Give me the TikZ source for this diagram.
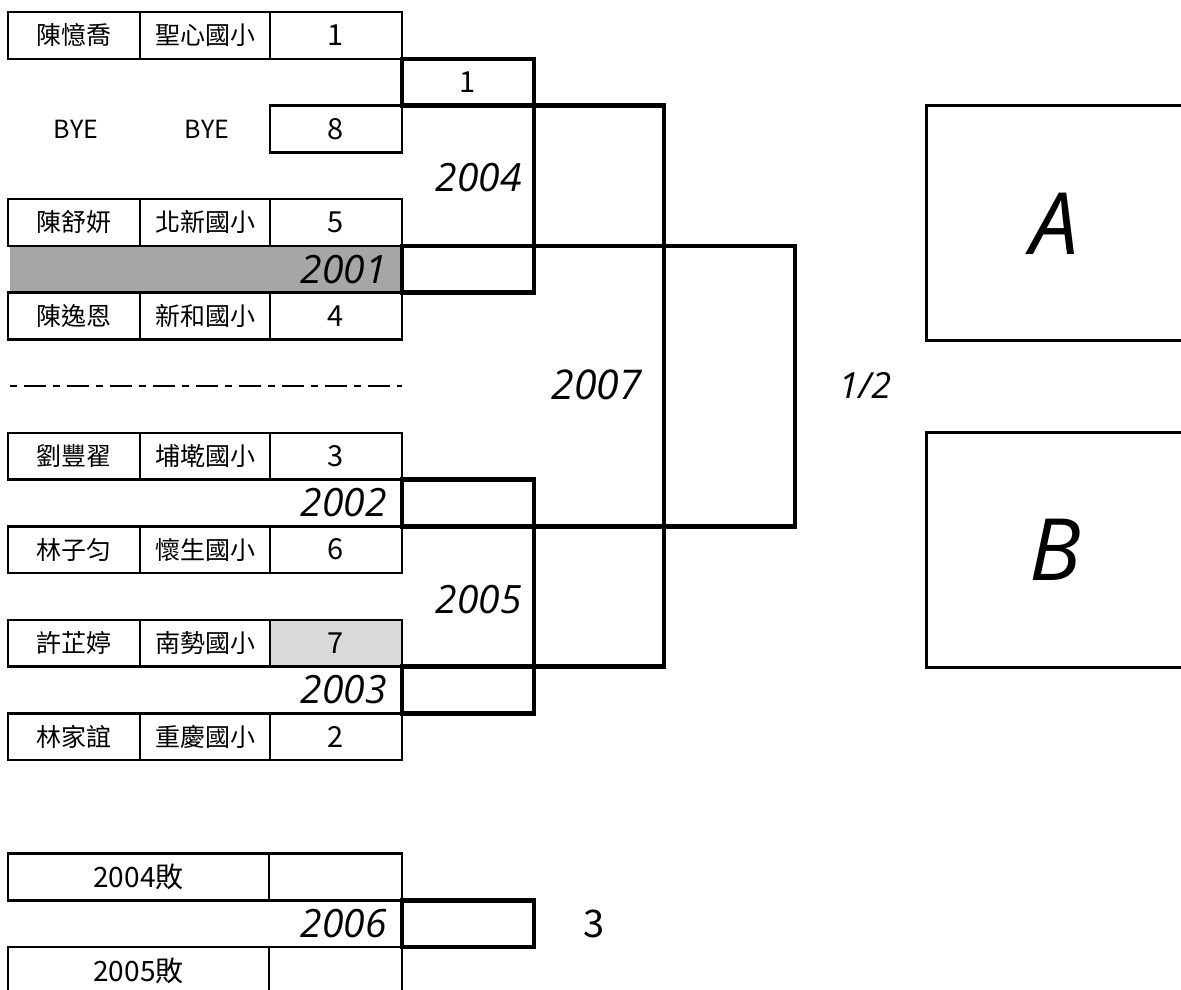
\documentclass[tikz,border=0pt]{standalone}
\usepackage{fontspec}
\setmainfont{Noto Sans CJK TC}
\newfontfamily\numit{Open Sans}
\definecolor{darkgr}{HTML}{A6A6A6}
\definecolor{lightgr}{HTML}{D9D9D9}
\newcommand\prow[5]{%
  \node[cell,minimum width=132pt] (n#1) at (8,#2) {#3};
  \node[cell,minimum width=130pt] (s#1) at (140,#2) {#4};
  \node[cell,numcell,minimum width=132pt] (q#1) at (270,#2) {#5};}
\begin{document}
\begin{tikzpicture}[x=1pt,y=-1pt,
  cell/.style={draw, line width=2.5pt, anchor=north west, minimum height=46.75pt,
    inner sep=0pt, outer sep=0pt, font=\fontsize{25}{25}\selectfont},
  numcell/.style={font=\fontsize{29}{29}\selectfont},
  tbox/.style={draw, line width=4.5pt, anchor=north west, minimum width=132pt,
    minimum height=46.75pt, inner sep=0pt, outer sep=0pt, font=\fontsize{29}{29}\selectfont},
  thk/.style={line width=4.5pt},
  mlabel/.style={font=\numit\itshape\fontsize{39}{39}\selectfont, inner sep=0pt, anchor=east},
  bigbox/.style={draw, line width=3pt, anchor=north west, minimum width=300pt, inner sep=0pt, outer sep=0pt},
  byetext/.style={font=\fontsize{25}{25}\selectfont, inner sep=0pt},
  losecell/.style={font=\fontsize{28}{28}\selectfont}
]
\useasboundingbox (0,0) rectangle (1181,989);

% gray background of 2001 row
\fill[darkgr] (10,245.75) rectangle (402,292.5);

% player rows
\prow{1}{12}{陳憶喬}{聖心國小}{1}
\node[byetext] (bye1) at (76,129) {BYE};
\node[byetext] (bye2) at (207,129) {BYE};
\node[cell,numcell,minimum width=132pt] (q8) at (270,105.5) {8};
\prow{5}{199}{陳舒妍}{北新國小}{5}
\prow{4}{292.5}{陳逸恩}{新和國小}{4}
\prow{3}{432.75}{劉豐翟}{埔墘國小}{3}
\prow{6}{526.25}{林子匀}{懷生國小}{6}
\node[cell,minimum width=132pt] (n7) at (8,619.75) {許芷婷};
\node[cell,minimum width=130pt] (s7) at (140,619.75) {南勢國小};
\node[cell,numcell,fill=lightgr,minimum width=132pt] (q7) at (270,619.75) {7};
\prow{2}{713.25}{林家誼}{重慶國小}{2}

% separator
\coordinate (dl) at (10,386);
\coordinate (dr) at (402,386);
\draw[line width=2.5pt, dash pattern=on 7pt off 7pt on 22pt off 7pt] (dl) -- (dr);

% bracket boxes
\node[tbox] (b2004) at (402,58.75) {1};
\node[tbox] (b2001) at (402,245.75) {};
\node[tbox] (b2002) at (402,479.5) {};
\node[tbox] (b2003) at (402,666.5) {};

\coordinate (c1t) at (664,105.5);
\coordinate (c1b) at (664,666.5);
\coordinate (c2t) at (795,245.75);
\coordinate (c2b) at (795,526.25);

\draw[thk] (b2004.north east) -- (b2001.south east);
\draw[thk] (b2004.south west) -- (c1t) -- (c1b) -- (b2003.north west);
\draw[thk] (b2001.north west) -- (c2t) -- (c2b) -- (b2002.south west);
\draw[thk] (b2002.north east) -- (b2003.south east);

% match labels
\node[mlabel] (l2004) at (522,178) {2004};
\node[mlabel] (l2001) at (387,270) {2001};
\node[mlabel] (l2002) at (387,503) {2002};
\node[mlabel] (l2003) at (387,690) {2003};
\node[mlabel] (l2005) at (522,600) {2005};
\node[mlabel, font=\numit\itshape\fontsize{41}{41}\selectfont] (l2007) at (642,385) {2007};
\node[font=\numit\itshape\fontsize{36}{36}\selectfont, inner sep=0pt] (lhalf) at (865,385) {1/2};

% final boxes
\node[bigbox, minimum height=234.5pt] (boxA) at (926,105.5) {};
\node[bigbox, minimum height=234.5pt] (boxB) at (926,432.75) {};
\node[font=\numit\itshape\fontsize{86}{86}\selectfont, inner sep=0pt] (lA) at (1055,224) {A};
\node[font=\numit\itshape\fontsize{86}{86}\selectfont, inner sep=0pt] (lB) at (1055,550) {B};

% third place
\node[cell,losecell,minimum width=261pt] (lo1) at (8,853.5) {2004敗};
\node[cell,minimum width=133pt] (lo1r) at (269,853.5) {};
\node[cell,losecell,minimum width=261pt] (lo2) at (8,947) {2005敗};
\node[cell,minimum width=133pt] (lo2r) at (269,947) {};
\node[tbox] (b2006) at (402,900.25) {};
\node[mlabel] (l2006) at (387,924) {2006};
\node[font=\fontsize{38}{38}\selectfont, inner sep=0pt] (l3) at (594,924) {3};
\end{tikzpicture}
\end{document}
